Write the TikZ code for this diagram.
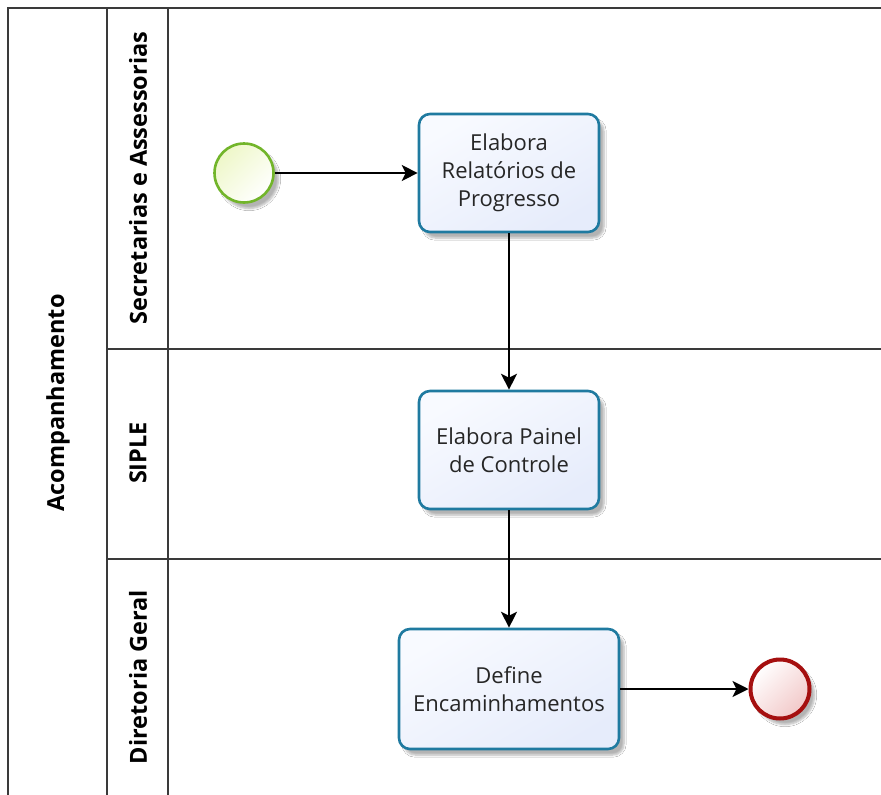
\documentclass[tikz,border=0pt]{standalone}
\usepackage{fontspec}
\setmainfont{Open Sans}
\usetikzlibrary{arrows.meta,shadows.blur}
\definecolor{lineg}{HTML}{3A3A3A}
\definecolor{taskb}{HTML}{1F7AA0}
\definecolor{tasktop}{HTML}{F8FAFF}
\definecolor{taskbot}{HTML}{E6ECFB}
\definecolor{startb}{HTML}{72B52A}
\definecolor{startf}{HTML}{EEF7C8}
\definecolor{endb}{HTML}{A50F0F}
\definecolor{endf}{HTML}{F2C8C8}
\begin{document}
\begin{tikzpicture}[x=1pt,y=-1pt,
  lane/.style={draw=lineg, line width=1.6pt},
  lanelabel/.style={rotate=90, font=\bfseries\fontsize{23.5}{26}\selectfont, text=black, inner sep=0pt},
  task/.style={draw=taskb, line width=2.6pt, rounded corners=11pt, top color=tasktop, bottom color=taskbot, shading angle=30,
     align=center, font=\fontsize{22}{28}\selectfont, text=black!85,
     blur shadow={shadow xshift=5pt, shadow yshift=-6pt, shadow blur steps=6, shadow opacity=30}},
  startev/.style={circle, draw=startb, line width=2.6pt, inner sep=0pt, minimum size=59pt, top color=startf, bottom color=white, shading angle=45,
     blur shadow={shadow xshift=5pt, shadow yshift=-6pt, shadow blur steps=6, shadow opacity=30}},
  endev/.style={circle, draw=endb, line width=4pt, inner sep=0pt, minimum size=59pt, top color=white, bottom color=endf, shading angle=45,
     blur shadow={shadow xshift=5pt, shadow yshift=-6pt, shadow blur steps=6, shadow opacity=30}},
  flow/.style={draw=black, line width=1.8pt, -{Stealth[length=16pt,width=16pt,inset=4pt]}}
]
\useasboundingbox (0,0) rectangle (881,795);
\fill[white] (0,0) rectangle (881,795);
% pool and lanes
\draw[lane] (8,8) rectangle (900,820);
\draw[lane, line width=2.4pt] (8,8) -- (900,8);
\draw[lane] (107,8) -- (107,820);
\draw[lane] (168,8) -- (168,820);
\draw[lane] (107,349) -- (900,349);
\draw[lane] (107,559) -- (900,559);
% labels
\node[lanelabel] (pool) at (58,403) {Acompanhamento};
\node[lanelabel] (l1) at (138,178) {Secretarias e Assessorias};
\node[lanelabel] (l2) at (138,453) {SIPLE};
\node[lanelabel] (l3) at (138,677) {Diretoria Geral};
% nodes
\node[startev] (start) at (244,173) {};
\node[task, minimum width=180pt, minimum height=118pt] (t1) at (509,173) {Elabora\\Relatórios de\\Progresso};
\node[task, minimum width=180pt, minimum height=118pt] (t2) at (509,450) {Elabora Painel\\de Controle};
\node[task, minimum width=220pt, minimum height=120pt] (t3) at (509,689) {Define\\Encaminhamentos};
\node[endev] (end) at (780,689) {};
% flows
\draw[flow] (start) -- (t1);
\draw[flow] (t1) -- (t2);
\draw[flow] (t2) -- (t3);
\draw[flow] (t3) -- (end);
\end{tikzpicture}
\end{document}
